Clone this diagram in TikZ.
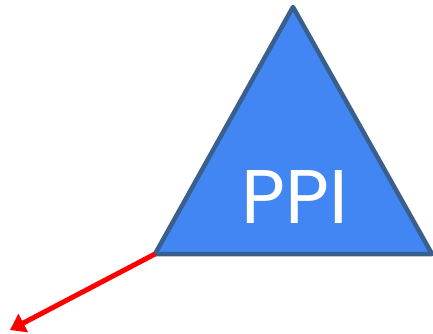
\documentclass[tikz,border=0pt]{standalone}
\usepackage{fontspec}
\setmainfont{Poppins}
\usepackage{xcolor}
\usepackage{tikz}
\usetikzlibrary{arrows.meta, positioning, calc}

\definecolor{ppiblue}{HTML}{4286F3}
\definecolor{ppiedge}{HTML}{3B5F8D}

\begin{document}
\begin{tikzpicture}[x=1pt, y=-1pt]
		% Frame
		\useasboundingbox (0,0) rectangle (433,334);
		
		% Corners of the triangle
		\coordinate (top) at (293,7);
		\coordinate (left) at (155,254);
		\coordinate (right) at (432,254);
		\coordinate (tip) at (10,330);
		
		% Triangle
		\filldraw[fill=ppiblue, draw=ppiedge, line width=4.5pt, line join=round]
		(top) -- (right) -- (left) -- cycle;
		
		% Label
		\node[text=white, font=\fontsize{76}{76}\selectfont, inner sep=0pt] (ppi) at (295,197) {PPI};
		
		% Red arrow
		\draw[red, line width=5pt, -{Triangle[length=15pt, width=20pt]}] (left) -- (tip);
	\end{tikzpicture}
\end{document}
